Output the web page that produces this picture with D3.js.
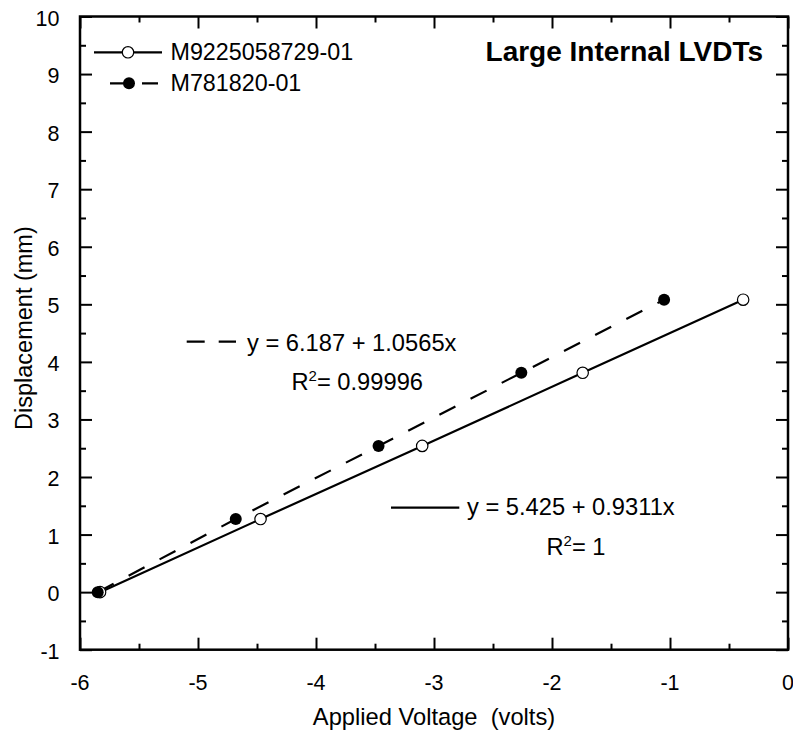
<!DOCTYPE html>
<html>
<head>
<meta charset="utf-8">
<script src="https://cdn.jsdelivr.net/npm/d3@7"></script>
<style>
  body { margin: 0; background: #fff; }
  text { font-family: "Liberation Sans", Arial, sans-serif; fill: #000; }
</style>
</head>
<body>
<div class="main"></div>
<script>
"use strict";

// displacement steps (mm), same for both LVDTs
var displacement = [0, 1.27, 2.54, 3.81, 5.08];
// applied voltage (volts)
var voltsOpen = [-5.83, -4.47, -3.10, -1.74, -0.38];   // M9225058729-01
var voltsFilled = [-5.85, -4.68, -3.47, -2.26, -1.05]; // M781820-01

var seriesNames = ["M9225058729-01", "M781820-01"];
var xTicks = [-6, -5, -4, -3, -2, -1, 0];
var yTicks = [-1, 0, 1, 2, 3, 4, 5, 6, 7, 8, 9, 10];

var width = 793, height = 734;
var plotL = 80, plotR = 788, plotT = 16.5, plotB = 649.7;

var svg = d3.select('div.main').append('svg')
    .attr('width', width)
    .attr('height', height);

var x = d3.scaleLinear().domain([-6, 0]).range([plotL, plotR]);
var y = d3.scaleLinear().domain([-1, 10]).range([plotB, plotT]);

// minor ticks at the halves
var xMinor = d3.range(-5.5, 0, 1);
var yMinor = d3.range(-0.5, 10, 1);

function tickAxis(axisFn, scale, values, size, pos) {
    return svg.append('g')
        .attr('transform', pos)
        .call(axisFn(scale).tickValues(values).tickSize(size).tickFormat(''))
        .call(function (g) { g.select('.domain').remove(); })
        .call(function (g) { g.selectAll('line').attr('stroke', '#000').attr('stroke-width', 2); });
}

// inward ticks on all four sides
tickAxis(d3.axisTop, x, xTicks, 12, 'translate(0,' + plotB + ')');
tickAxis(d3.axisTop, x, xMinor, 6, 'translate(0,' + plotB + ')');
tickAxis(d3.axisBottom, x, xTicks, 12, 'translate(0,' + plotT + ')');
tickAxis(d3.axisBottom, x, xMinor, 6, 'translate(0,' + plotT + ')');
tickAxis(d3.axisRight, y, yTicks, 12, 'translate(' + plotL + ',0)');
tickAxis(d3.axisRight, y, yMinor, 6, 'translate(' + plotL + ',0)');
tickAxis(d3.axisLeft, y, yTicks, 12, 'translate(' + plotR + ',0)');
tickAxis(d3.axisLeft, y, yMinor, 6, 'translate(' + plotR + ',0)');

// frame
svg.append('rect')
    .attr('x', plotL).attr('y', plotT)
    .attr('width', plotR - plotL).attr('height', plotB - plotT)
    .attr('fill', 'none').attr('stroke', '#000').attr('stroke-width', 2.5);

// tick labels
svg.append('g').selectAll('text').data(xTicks).enter().append('text')
    .attr('x', function (d) { return x(d); })
    .attr('y', 690)
    .attr('text-anchor', 'middle')
    .style('font-size', '21.5px')
    .text(function (d) { return d; });

svg.append('g').selectAll('text').data(yTicks).enter().append('text')
    .attr('x', 59.5)
    .attr('y', function (d) { return y(d) + 9; })
    .attr('text-anchor', 'end')
    .style('font-size', '21.5px')
    .text(function (d) { return d; });

// axis titles
svg.append('text')
    .attr('x', (plotL + plotR) / 2)
    .attr('y', 725)
    .attr('text-anchor', 'middle')
    .style('font-size', '23.7px')
    .style('white-space', 'pre')
    .text('Applied Voltage  (volts)');

svg.append('text')
    .attr('transform', 'translate(32,' + ((plotT + plotB) / 2 - 5) + ') rotate(-90)')
    .attr('text-anchor', 'middle')
    .style('font-size', '23.5px')
    .text('Displacement (mm)');

// fit lines through the points
var line = d3.line()
    .x(function (d) { return x(d[0]); })
    .y(function (d) { return y(d[1]); });

var openPts = d3.zip(voltsOpen, displacement);
var filledPts = d3.zip(voltsFilled, displacement);

svg.append('path').datum(openPts)
    .attr('d', line)
    .attr('fill', 'none').attr('stroke', '#000').attr('stroke-width', 2.2);

svg.append('path').datum(filledPts)
    .attr('d', line)
    .attr('fill', 'none').attr('stroke', '#000').attr('stroke-width', 2.2)
    .attr('stroke-dasharray', '18,17');

svg.append('g').selectAll('circle').data(openPts).enter().append('circle')
    .attr('cx', function (d) { return x(d[0]); })
    .attr('cy', function (d) { return y(d[1]); })
    .attr('r', 5.7)
    .attr('fill', '#fff').attr('stroke', '#000').attr('stroke-width', 1.2);

svg.append('g').selectAll('circle').data(filledPts).enter().append('circle')
    .attr('cx', function (d) { return x(d[0]); })
    .attr('cy', function (d) { return y(d[1]); })
    .attr('r', 6)
    .attr('fill', '#000');

// legend
svg.append('line')
    .attr('x1', 94).attr('x2', 162).attr('y1', 52.3).attr('y2', 52.3)
    .attr('stroke', '#000').attr('stroke-width', 2.2);
svg.append('circle')
    .attr('cx', 128).attr('cy', 52.3).attr('r', 5.7)
    .attr('fill', '#fff').attr('stroke', '#000').attr('stroke-width', 1.2);
svg.append('text').attr('x', 170.5).attr('y', 60)
    .style('font-size', '23.3px').text(seriesNames[0]);

svg.append('line')
    .attr('x1', 110).attr('x2', 158).attr('y1', 83.3).attr('y2', 83.3)
    .attr('stroke', '#000').attr('stroke-width', 2.2)
    .attr('stroke-dasharray', '20,12,16');
svg.append('circle')
    .attr('cx', 129).attr('cy', 83.3).attr('r', 6)
    .attr('fill', '#000');
svg.append('text').attr('x', 170.5).attr('y', 90.7)
    .style('font-size', '23.3px').text(seriesNames[1]);

// title
svg.append('text')
    .attr('x', 763).attr('y', 61)
    .attr('text-anchor', 'end')
    .style('font-size', '28px').style('font-weight', 'bold')
    .text('Large Internal LVDTs');

// regression annotations
svg.append('line')
    .attr('x1', 186.7).attr('x2', 236).attr('y1', 341.7).attr('y2', 341.7)
    .attr('stroke', '#000').attr('stroke-width', 2.2)
    .attr('stroke-dasharray', '18,14');
svg.append('text').attr('x', 247).attr('y', 350.5)
    .style('font-size', '23.7px').text('y = 6.187 + 1.0565x');
var r1 = svg.append('text').attr('x', 291.5).attr('y', 390).style('font-size', '23.7px');
r1.append('tspan').text('R');
r1.append('tspan').attr('dy', -9).style('font-size', '15px').text('2');
r1.append('tspan').attr('dy', 9).text('= 0.99996');

svg.append('line')
    .attr('x1', 391).attr('x2', 459.3).attr('y1', 507.7).attr('y2', 507.7)
    .attr('stroke', '#000').attr('stroke-width', 2.2);
svg.append('text').attr('x', 467).attr('y', 515)
    .style('font-size', '23.7px').text('y = 5.425 + 0.9311x');
var r2 = svg.append('text').attr('x', 546.5).attr('y', 555).style('font-size', '23.7px');
r2.append('tspan').text('R');
r2.append('tspan').attr('dy', -9).style('font-size', '15px').text('2');
r2.append('tspan').attr('dy', 9).text('= 1');
</script>
</body>
</html>
